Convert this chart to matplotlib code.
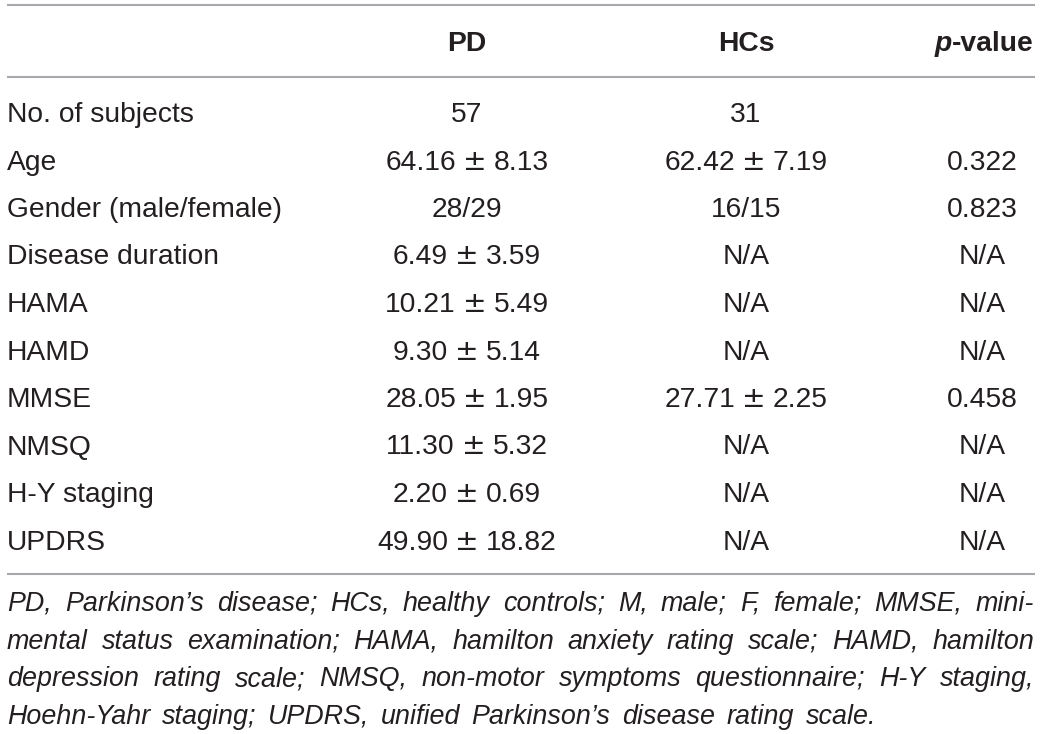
import matplotlib.pyplot as plt

W, H = 1040, 734

columns = ["PD", "HCs", "p-value"]
row_labels = [
    "No. of subjects", "Age", "Gender (male/female)", "Disease duration",
    "HAMA", "HAMD", "MMSE", "NMSQ", "H-Y staging", "UPDRS",
]
pd_values = [
    "57", "64.16 ± 8.13", "28/29", "6.49 ± 3.59", "10.21 ± 5.49",
    "9.30 ± 5.14", "28.05 ± 1.95", "11.30 ± 5.32", "2.20 ± 0.69", "49.90 ± 18.82",
]
hc_values = [
    "31", "62.42 ± 7.19", "16/15", "N/A", "N/A",
    "N/A", "27.71 ± 2.25", "N/A", "N/A", "N/A",
]
p_values = ["", "0.322", "0.823", "N/A", "N/A", "N/A", "0.458", "N/A", "N/A", "N/A"]

footnote_lines = [
    "PD, Parkinson’s disease; HCs, healthy controls; M, male; F, female; MMSE, mini-",
    "mental status examination; HAMA, hamilton anxiety rating scale; HAMD, hamilton",
    "depression rating scale; NMSQ, non-motor symptoms questionnaire; H-Y staging,",
    "Hoehn-Yahr staging; UPDRS, unified Parkinson’s disease rating scale.",
]

plt.rcParams["font.family"] = ["Liberation Sans", "DejaVu Sans"]
fig = plt.figure(figsize=(W / 100, H / 100), dpi=100)
ax = fig.add_axes([0, 0, 1, 1])
ax.set_xlim(0, W)
ax.set_ylim(H, 0)
ax.axis("off")

txt = "#231f20"
rule = "#a7a9ac"
fs = 20.3
fs_foot = 19.4
left, right = 7, 1034
col_x = [467, 746, 982]

for y in (5, 77, 574):
    ax.plot([left, right + 1], [y, y], color=rule, lw=1.5, solid_capstyle="butt")

# header
head_y = 51
ax.text(col_x[0], head_y, columns[0], ha="center", va="baseline", fontsize=fs,
        fontweight="bold", color=txt)
ax.text(col_x[1], head_y, columns[1], ha="center", va="baseline", fontsize=fs,
        fontweight="bold", color=txt)
t_val = ax.text(right, head_y, columns[2][1:], ha="right", va="baseline", fontsize=fs,
                fontweight="bold", color=txt)
t_p = ax.text(0, head_y, columns[2][0], ha="right", va="baseline", fontsize=fs,
              fontweight="bold", style="italic", color=txt)

# body cells; values with ± are split so the sign can use a wider glyph
pm_cells = []


def cell(x, y, s):
    if "±" in s:
        a, b = [p.strip() for p in s.split("±")]
        ta = ax.text(x, y, a, ha="left", va="baseline", fontsize=fs, color=txt)
        tpm = ax.text(x, y, "±", ha="left", va="baseline", fontsize=fs, color=txt,
                      family="DejaVu Sans")
        tb = ax.text(x, y, b, ha="left", va="baseline", fontsize=fs, color=txt)
        pm_cells.append((x, ta, tpm, tb))
    else:
        ax.text(x, y, s, ha="center", va="baseline", fontsize=fs, color=txt)


row_y0, row_dy = 122, 47.5
for i, label in enumerate(row_labels):
    y = row_y0 + i * row_dy
    ax.text(left, y, label, ha="left", va="baseline", fontsize=fs, color=txt)
    cell(col_x[0], y, pd_values[i])
    cell(col_x[1], y, hc_values[i])
    cell(col_x[2], y, p_values[i])

# footnote words
foot_y0, foot_dy = 611, 37.6
foot_items = []
for j, line in enumerate(footnote_lines):
    y = foot_y0 + j * foot_dy
    words = line.split(" ")
    foot_items.append([ax.text(0, y, w, ha="left", va="baseline", fontsize=fs_foot,
                               style="italic", color=txt) for w in words])

fig.canvas.draw()
renderer = fig.canvas.get_renderer()


def width(t):
    return t.get_window_extent(renderer).width


t_p.set_x(t_val.get_window_extent(renderer).x0)

gap = 7
for x, ta, tpm, tb in pm_cells:
    wa, wpm, wb = width(ta), width(tpm), width(tb)
    x0 = x - (wa + wpm + wb + 2 * gap) / 2
    ta.set_x(x0)
    tpm.set_x(x0 + wa + gap)
    tb.set_x(x0 + wa + gap + wpm + gap)

for j, items in enumerate(foot_items):
    widths = [width(t) for t in items]
    if j < len(foot_items) - 1:
        g = (right - left - sum(widths)) / (len(items) - 1)
    else:
        g = (876 - left - sum(widths)) / (len(items) - 1)
    x = left
    for t, w in zip(items, widths):
        t.set_x(x)
        x += w + g

fig.savefig("out.png", dpi=100)
